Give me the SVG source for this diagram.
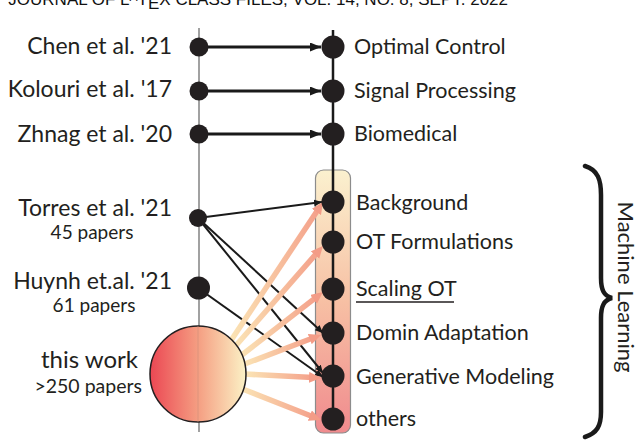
<svg xmlns="http://www.w3.org/2000/svg" width="640" height="440" viewBox="0 0 640 440">
<defs>
<style>
.lbl{font-family:Lato,"Open Sans","DejaVu Sans",sans-serif;fill:#231f20;}
.big{font-size:23px;}
.sub{font-size:19px;}
.rl{font-size:21.5px;}
.node{fill:#231f20;}
.blk{stroke:#1a1a1a;fill:none;}
.pink{stroke:url(#ag);stroke-width:5.5;fill:none;marker-end:url(#ph);}
.hdr{font-family:"Liberation Sans",Arial,sans-serif;font-size:17px;fill:#111;}
</style>
<linearGradient id="ag" x1="0" y1="0" x2="1" y2="0">
<stop offset="0" stop-color="#fbe6b6"/>
<stop offset="1" stop-color="#f4a08a"/>
</linearGradient>
<linearGradient id="cg" x1="0" y1="0" x2="1" y2="0">
<stop offset="0" stop-color="#eb4753"/>
<stop offset="0.5" stop-color="#f59e82"/>
<stop offset="1" stop-color="#fbf2c6"/>
</linearGradient>
<linearGradient id="rg" x1="0" y1="0" x2="0" y2="1">
<stop offset="0" stop-color="#fbf1cf"/>
<stop offset="0.5" stop-color="#f7c0a4"/>
<stop offset="1" stop-color="#f08b8e"/>
</linearGradient>
<marker id="bh" markerUnits="userSpaceOnUse" markerWidth="12" markerHeight="10" refX="11" refY="4.5" orient="auto">
<path d="M0,0 L11,4.5 L0,9 z" fill="#1a1a1a"/>
</marker>
<marker id="sh" markerUnits="userSpaceOnUse" markerWidth="10" markerHeight="8" refX="8" refY="3.5" orient="auto">
<path d="M0,0 L8,3.5 L0,7 z" fill="#1a1a1a"/>
</marker>
<marker id="ph" markerUnits="userSpaceOnUse" markerWidth="14" markerHeight="12" refX="4" refY="5.5" orient="auto">
<path d="M0,0 L12,5.5 L0,11 z" fill="#f39c87"/>
</marker>
</defs>

<text class="hdr" x="508" y="5" text-anchor="end">JOURNAL OF L<tspan font-size="12" dy="-4">A</tspan><tspan dy="4">T</tspan><tspan dy="4">E</tspan><tspan dy="-4">X CLASS FILES, VOL. 14, NO. 8, SEPT. 2022</tspan></text>

<line x1="199" y1="28" x2="199" y2="432" stroke="#8a8a8a" stroke-width="1.6"/>
<rect x="315.5" y="170" width="35" height="263" rx="8" fill="url(#rg)" stroke="#8c8c8c" stroke-width="1.2"/>
<line x1="333" y1="30" x2="333" y2="420" stroke="#1a1a1a" stroke-width="2.5"/>

<g id="connectors">
<line class="blk" x1="199" y1="47" x2="321" y2="47" stroke-width="3" marker-end="url(#bh)"/>
<line class="blk" x1="199" y1="91" x2="321" y2="91" stroke-width="3" marker-end="url(#bh)"/>
<line class="blk" x1="199" y1="134" x2="321" y2="134" stroke-width="3" marker-end="url(#bh)"/>
<line class="blk" x1="198" y1="218" x2="322" y2="202" stroke-width="2" marker-end="url(#sh)"/>
<line class="blk" x1="198" y1="218" x2="323" y2="333" stroke-width="2" marker-end="url(#sh)"/>
<line class="blk" x1="198" y1="218" x2="323" y2="373" stroke-width="2" marker-end="url(#sh)"/>
<line class="blk" x1="198" y1="288" x2="323" y2="377" stroke-width="2" marker-end="url(#sh)"/>
<path class="pink" d="M228,345 L318.6,208.7"/>
<path class="pink" d="M232,350 L317.7,252"/>
<path class="pink" d="M238,358 L316.7,296.9"/>
<path class="pink" d="M242,365 L313.5,337.8"/>
<path class="pink" d="M244,374 L313,377.6"/>
<path class="pink" d="M240,388 L313.6,417"/>
</g>

<g id="chen"><circle class="node" cx="199" cy="47" r="9.5"/><text class="lbl big" x="172" y="54" text-anchor="end">Chen et al. '21</text></g>
<g id="kolouri"><circle class="node" cx="199" cy="91" r="9.5"/><text class="lbl big" x="172" y="97" text-anchor="end">Kolouri et al. '17</text></g>
<g id="zhnag"><circle class="node" cx="199" cy="134" r="9.5"/><text class="lbl big" x="172" y="142" text-anchor="end">Zhnag et al. '20</text></g>
<g id="torres"><circle class="node" cx="198" cy="218" r="9"/><text class="lbl big" x="172" y="216" text-anchor="end">Torres et al. '21</text><text class="lbl sub" x="92" y="239" text-anchor="middle">45 papers</text></g>
<g id="huynh"><circle class="node" cx="198.5" cy="288" r="11.5"/><text class="lbl big" x="172" y="289" text-anchor="end">Huynh et.al. '21</text><text class="lbl sub" x="94" y="312" text-anchor="middle">61 papers</text></g>
<g id="thiswork"><circle cx="198" cy="374" r="48" fill="url(#cg)" stroke="#231f20" stroke-width="1.5"/><line x1="198" y1="326" x2="198" y2="422" stroke="#c98a78" stroke-width="1" opacity="0.5"/><text class="lbl" font-size="24" x="138" y="368" text-anchor="end">this work</text><text class="lbl" font-size="19.5" x="142" y="393" text-anchor="end">&gt;250 papers</text></g>

<g id="optimal"><circle class="node" cx="333" cy="47" r="11.5"/><text class="lbl rl" x="354" y="54">Optimal Control</text></g>
<g id="signal"><circle class="node" cx="333" cy="91" r="11.5"/><text class="lbl rl" x="354" y="98">Signal Processing</text></g>
<g id="biomedical"><circle class="node" cx="333" cy="134" r="11.5"/><text class="lbl rl" x="354" y="141">Biomedical</text></g>
<g id="background"><circle class="node" cx="333" cy="202" r="11.5"/><text class="lbl rl" x="356" y="210">Background</text></g>
<g id="otform"><circle class="node" cx="333" cy="242" r="11.5"/><text class="lbl rl" x="356" y="249">OT Formulations</text></g>
<g id="scaling"><circle class="node" cx="333" cy="289" r="11.5"/><text class="lbl rl" x="356" y="296">Scaling OT</text><line x1="356" y1="302" x2="454" y2="302" stroke="#231f20" stroke-width="1.6"/></g>
<g id="domin"><circle class="node" cx="333" cy="333" r="11.5"/><text class="lbl rl" x="356" y="340">Domin Adaptation</text></g>
<g id="generative"><circle class="node" cx="333" cy="376" r="11.5"/><text class="lbl rl" x="356" y="384">Generative Modeling</text></g>
<g id="others"><circle class="node" cx="333" cy="419" r="11.5"/><text class="lbl rl" x="356" y="426">others</text></g>

<g id="ml">
<path d="M585,166 C598,170 601,180 601,195 L601,278 C601,290 604,296 612,298 C604,300 601,306 601,318 L601,412 C601,426 597,433 585,437" fill="none" stroke="#1a1a1a" stroke-width="4.5" stroke-linecap="round"/>
<text class="lbl" font-size="22" transform="translate(618,287) rotate(90)" text-anchor="middle">Machine Learning</text>
</g>
</svg>
